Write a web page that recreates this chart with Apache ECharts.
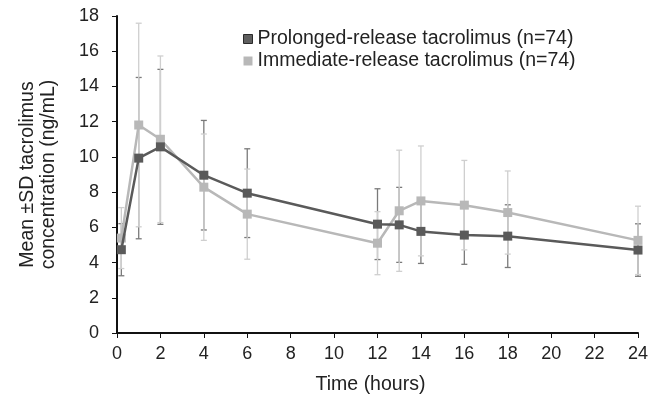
<!DOCTYPE html>
<html>
<head>
<meta charset="utf-8">
<script src="https://cdn.jsdelivr.net/npm/echarts@6/dist/echarts.min.js"></script>
<style>
html,body{margin:0;padding:0;background:#fff;}
#chart{width:661px;height:405px;}
</style>
</head>
<body>
<div id="chart"></div>
<script>
const times = [0.2, 1, 2, 4, 6, 12, 13, 14, 16, 18, 24];
const prolongedMean = [4.73, 9.93, 10.57, 8.96, 7.94, 6.18, 6.14, 5.77, 5.56, 5.50, 4.71];
const prolongedSD   = [1.48, 4.58, 4.40, 3.11, 2.52, 2.01, 2.13, 1.82, 1.66, 1.78, 1.49];
const immediateMean = [5.39, 11.81, 11.00, 8.28, 6.75, 5.10, 6.94, 7.50, 7.26, 6.84, 5.26];
const immediateSD   = [1.73, 5.78, 4.73, 3.02, 2.56, 1.79, 3.44, 3.12, 2.54, 2.36, 1.94];
const xTicks = [0, 2, 4, 6, 8, 10, 12, 14, 16, 18, 20, 22, 24];
const yTicks = [0, 2, 4, 6, 8, 10, 12, 14, 16, 18];

const nameP = 'Prolonged-release tacrolimus (n=74)';
const nameI = 'Immediate-release tacrolimus (n=74)';
const FONT = '"Liberation Sans", Arial, sans-serif';

function errSeries(mean, sd, color, z) {
  return {
    type: 'custom',
    z: z,
    silent: true,
    data: times.map((t, i) => [t, mean[i], sd[i]]),
    encode: { x: 0, y: 1 },
    renderItem: function (params, api) {
      const x = api.value(0), m = api.value(1), s = api.value(2);
      const top = api.coord([x, m + s]);
      const bot = api.coord([x, m - s]);
      const w = 3;
      const st = { stroke: color, lineWidth: 1.3 };
      return {
        type: 'group',
        children: [
          { type: 'line', shape: { x1: top[0], y1: top[1], x2: bot[0], y2: bot[1] }, style: st },
          { type: 'line', shape: { x1: top[0] - w, y1: top[1], x2: top[0] + w, y2: top[1] }, style: st },
          { type: 'line', shape: { x1: bot[0] - w, y1: bot[1], x2: bot[0] + w, y2: bot[1] }, style: st }
        ]
      };
    }
  };
}

const chart = echarts.init(document.getElementById('chart'), null, { renderer: 'canvas' });
chart.setOption({
  animation: false,
  backgroundColor: '#fff',
  textStyle: { fontFamily: FONT },
  grid: { left: 117, right: 23, top: 16, bottom: 72, containLabel: false },
  legend: {
    orient: 'vertical',
    left: 238,
    top: 24,
    itemWidth: 9,
    itemHeight: 9,
    itemGap: 2,
    icon: 'rect',
    textStyle: { fontSize: 19.5, color: '#222', fontFamily: FONT, lineHeight: 20, padding: [0, 0, 0, 0] },
    data: [
      { name: nameP, itemStyle: { color: '#5f5f5f', borderColor: '#2a2a2a', borderWidth: 1 } },
      { name: nameI, itemStyle: { color: '#b8b8b8', borderWidth: 0 } }
    ]
  },
  xAxis: {
    type: 'value',
    min: 0, max: 24, interval: 2,
    name: 'Time (hours)',
    nameLocation: 'middle',
    nameGap: 42,
    nameTextStyle: { fontSize: 19.5, color: '#222', fontFamily: FONT, padding: [0, 14, 0, 0] },
    axisLine: { show: true, lineStyle: { color: '#111', width: 2 } },
    axisTick: { show: true, length: 5, lineStyle: { color: '#111', width: 1 } },
    axisLabel: { fontSize: 18, color: '#222', margin: 12, fontFamily: FONT,
      formatter: v => xTicks.includes(v) ? String(v) : '' },
    splitLine: { show: false }
  },
  yAxis: {
    type: 'value',
    min: 0, max: 18, interval: 2,
    name: 'Mean \u00B1SD tacrolimus\nconcentration (ng/mL)',
    nameLocation: 'middle',
    nameRotate: 90,
    nameGap: 58,
    nameTextStyle: { fontSize: 19.5, color: '#222', fontFamily: FONT, lineHeight: 21, align: 'center' },
    axisLine: { show: true, lineStyle: { color: '#111', width: 2 } },
    axisTick: { show: true, length: 5, lineStyle: { color: '#111', width: 1 } },
    axisLabel: { fontSize: 18, color: '#222', margin: 18, fontFamily: FONT,
      formatter: v => yTicks.includes(v) ? String(v) : '' },
    splitLine: { show: false }
  },
  series: [
    errSeries(prolongedMean, prolongedSD, '#7a7a7a', 1),
    errSeries(immediateMean, immediateSD, '#cfcfcf', 1),
    {
      name: nameI,
      type: 'line',
      z: 3,
      data: times.map((t, i) => [t, immediateMean[i]]),
      symbol: 'rect',
      symbolSize: 9,
      showSymbol: true,
      lineStyle: { color: '#b8b8b8', width: 2.5 },
      itemStyle: { color: '#b8b8b8' }
    },
    {
      name: nameP,
      type: 'line',
      z: 4,
      data: times.map((t, i) => [t, prolongedMean[i]]),
      symbol: 'rect',
      symbolSize: 9,
      showSymbol: true,
      lineStyle: { color: '#5a5a5a', width: 2.5 },
      itemStyle: { color: '#5a5a5a' }
    }
  ]
});
</script>
</body>
</html>
